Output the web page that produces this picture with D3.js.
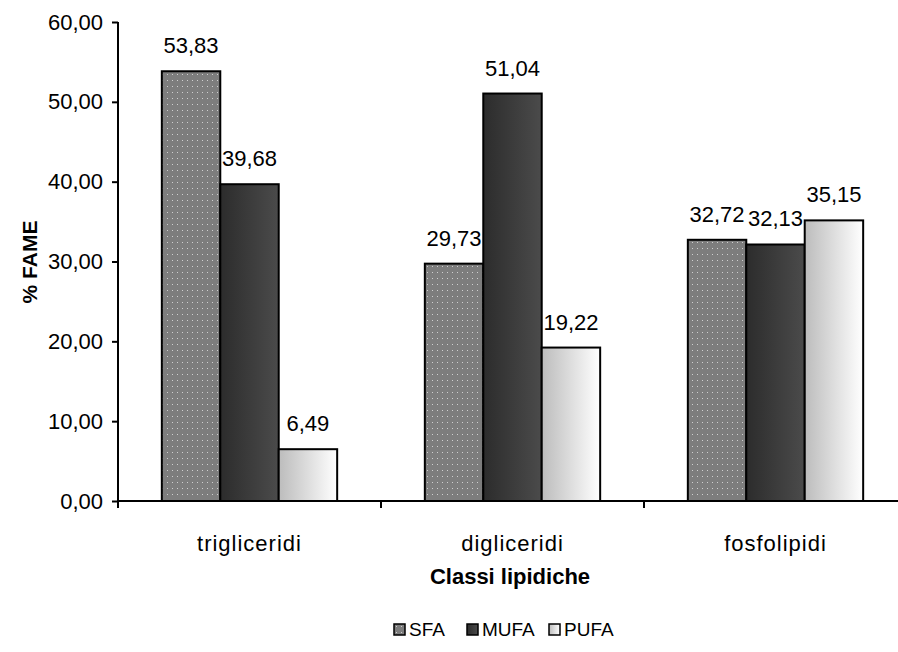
<!DOCTYPE html>
<html>
<head>
<meta charset="utf-8">
<script src="https://cdn.jsdelivr.net/npm/d3@7"></script>
<style>
  html, body { margin: 0; padding: 0; background: #fff; }
  svg { display: block; font-family: "Liberation Sans", Arial, sans-serif; }
</style>
</head>
<body>
<svg id="chart" width="898" height="652"></svg>
<script>
// Fatty-acid composition by lipid class
const categories = ["trigliceridi", "digliceridi", "fosfolipidi"];
const seriesNames = ["SFA", "MUFA", "PUFA"];
const sfaValues  = [53.83, 29.73, 32.72];
const mufaValues = [39.68, 51.04, 32.13];
const pufaValues = [6.49, 19.22, 35.15];
const yTicks = [0, 10, 20, 30, 40, 50, 60];

const seriesValues = [sfaValues, mufaValues, pufaValues];
const fmt = v => d3.format(".2f")(v).replace(".", ",");

const svg = d3.select("#chart");
const margin = { left: 118, top: 22, right: 907, bottom: 501 };

const x0 = d3.scaleBand().domain(categories).range([margin.left, margin.right]).paddingInner(0).paddingOuter(0);
const x1 = d3.scaleBand().domain(seriesNames).range([0, x0.bandwidth()]).paddingInner(0).paddingOuter(0.75);
const y = d3.scaleLinear().domain([0, 60]).range([margin.bottom, margin.top]);

// fills
const defs = svg.append("defs");
const pat = defs.append("pattern").attr("id", "sfaDots")
  .attr("patternUnits", "userSpaceOnUse").attr("width", 5).attr("height", 6);
pat.append("rect").attr("width", 5).attr("height", 6).attr("fill", "#7d7d7d");
pat.append("rect").attr("x", 2).attr("y", 2).attr("width", 1).attr("height", 1).attr("fill", "#cfcfcf");

const gM = defs.append("linearGradient").attr("id", "mufaGrad");
gM.append("stop").attr("offset", "0%").attr("stop-color", "#2c2c2c");
gM.append("stop").attr("offset", "100%").attr("stop-color", "#4b4b4b");
const gP = defs.append("linearGradient").attr("id", "pufaGrad");
gP.append("stop").attr("offset", "0%").attr("stop-color", "#bcbcbc");
gP.append("stop").attr("offset", "100%").attr("stop-color", "#ffffff");
const fills = { SFA: "url(#sfaDots)", MUFA: "url(#mufaGrad)", PUFA: "url(#pufaGrad)" };

// bars
const rows = [];
categories.forEach((c, i) => seriesNames.forEach((s, j) => rows.push({ cat: c, s, v: seriesValues[j][i] })));

svg.append("g").selectAll("rect").data(rows).join("rect")
  .attr("x", d => x0(d.cat) + x1(d.s))
  .attr("y", d => y(d.v))
  .attr("width", x1.bandwidth())
  .attr("height", d => y(0) - y(d.v))
  .attr("fill", d => fills[d.s])
  .attr("stroke", "#000").attr("stroke-width", 2);

// value labels
svg.append("g").selectAll("text").data(rows).join("text")
  .attr("x", d => x0(d.cat) + x1(d.s) + x1.bandwidth() / 2)
  .attr("y", d => y(d.v) - 18)
  .attr("text-anchor", "middle")
  .attr("font-size", 22).attr("fill", "#000")
  .text(d => fmt(d.v));

// y axis
const yAxis = d3.axisLeft(y).tickValues(yTicks).tickFormat(fmt).tickSize(6).tickPadding(9);
const gy = svg.append("g").attr("transform", `translate(${margin.left},0)`).call(yAxis);
gy.select(".domain").attr("stroke", "#000").attr("stroke-width", 2).attr("d", `M0,${margin.top}V${margin.bottom}`);
gy.selectAll(".tick line").attr("stroke", "#000").attr("stroke-width", 2);
gy.selectAll(".tick text").attr("font-size", 22).attr("fill", "#000").attr("font-family", "Liberation Sans, Arial, sans-serif");

// x axis with ticks at category boundaries
const gx = svg.append("g").attr("transform", `translate(0,${margin.bottom})`);
gx.append("line").attr("x1", margin.left).attr("x2", margin.right).attr("stroke", "#000").attr("stroke-width", 2);
const bounds = categories.map(c => x0(c)).concat([margin.right]);
gx.selectAll(".bt").data(bounds).join("line").attr("class", "bt")
  .attr("x1", d => d).attr("x2", d => d).attr("y1", 0).attr("y2", 7)
  .attr("stroke", "#000").attr("stroke-width", 2);
gx.selectAll(".cl").data(categories).join("text").attr("class", "cl")
  .attr("x", d => x0(d) + x0.bandwidth() / 2).attr("y", 50)
  .attr("text-anchor", "middle").attr("font-size", 22).attr("letter-spacing", 1).attr("fill", "#000")
  .text(d => d);

// axis titles
svg.append("text").attr("x", 510).attr("y", 584).attr("text-anchor", "middle")
  .attr("font-size", 22).attr("font-weight", "bold").text("Classi lipidiche");
svg.append("text").attr("transform", "translate(37,262) rotate(-90)").attr("text-anchor", "middle")
  .attr("font-size", 21).attr("font-weight", "bold").text("% FAME");

// legend
const legendX = [394, 467, 549];
const lg = svg.append("g").selectAll("g").data(seriesNames).join("g")
  .attr("transform", (d, i) => `translate(${legendX[i]},624)`);
lg.append("rect").attr("width", 11).attr("height", 11).attr("fill", d => fills[d])
  .attr("stroke", "#000").attr("stroke-width", 1.5);
lg.append("text").attr("x", 15).attr("y", 12).attr("font-size", 19).attr("fill", "#000").text(d => d);
</script>
</body>
</html>
